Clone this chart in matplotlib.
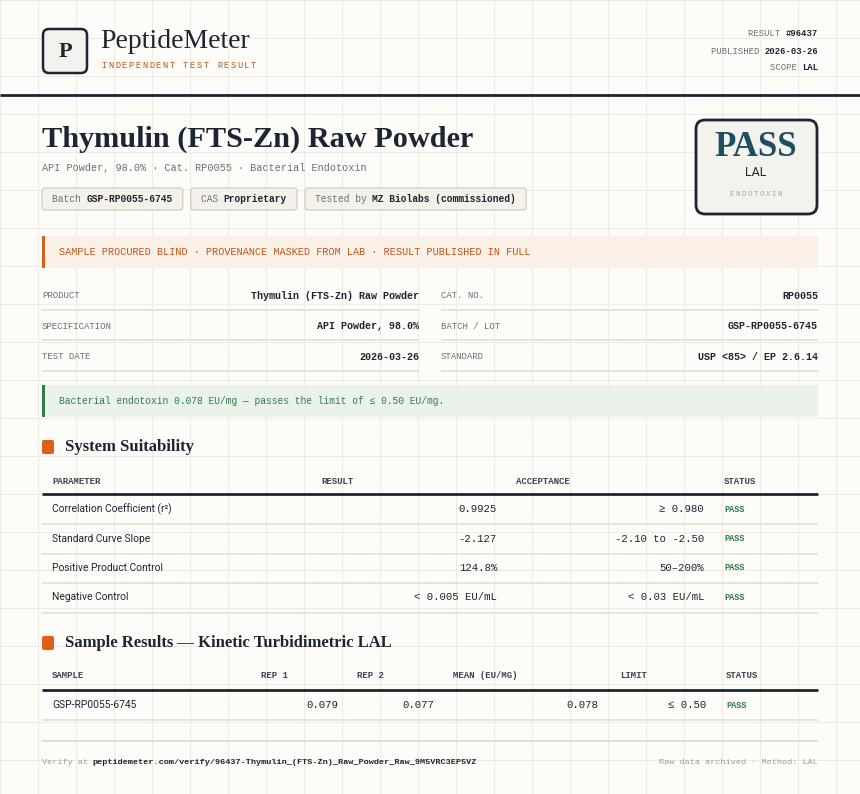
import matplotlib.pyplot as plt
from matplotlib.patches import FancyBboxPatch, Rectangle

W, H = 860, 794

# data
result_id = "#96437"
published = "2026-03-26"
scope = "LAL"
title = "Thymulin (FTS-Zn) Raw Powder"
subtitle = "API Powder, 98.0% · Cat. RP0055 · Bacterial Endotoxin"
chips = [("Batch ", "GSP-RP0055-6745"), ("CAS ", "Proprietary"),
         ("Tested by ", "MZ Biolabs (commissioned)")]
info_left = [("PRODUCT", "Thymulin (FTS-Zn) Raw Powder"),
             ("SPECIFICATION", "API Powder, 98.0%"),
             ("TEST DATE", "2026-03-26")]
info_right = [("CAT. NO.", "RP0055"), ("BATCH / LOT", "GSP-RP0055-6745"),
              ("STANDARD", "USP <85> / EP 2.6.14")]
suit_params = ["Correlation Coefficient (r²)", "Standard Curve Slope",
               "Positive Product Control", "Negative Control"]
suit_results = ["0.9925", "-2.127", "124.8%", "< 0.005 EU/mL"]
suit_accept = ["≥ 0.980", "-2.10 to -2.50", "50–200%", "< 0.03 EU/mL"]
suit_status = ["PASS", "PASS", "PASS", "PASS"]
samples = ["GSP-RP0055-6745"]
rep1 = ["0.079"]
rep2 = ["0.077"]
means = ["0.078"]
limits = ["≤ 0.50"]
sample_status = ["PASS"]

DARK = "#1c2533"
GRAY = "#6b6f76"
ORANGE = "#c2531a"
GREEN = "#2e7d4a"
TEAL = "#1d4e63"
LINE = "#e4dfd3"
SERIF = ["Liberation Serif", "DejaVu Serif"]
MONO = ["Liberation Mono", "DejaVu Sans Mono"]
SANS = ["Roboto", "DejaVu Sans"]

fig = plt.figure(figsize=(W / 100, H / 100), dpi=100)
fig.patch.set_facecolor("#fdfcf8")
ax = fig.add_axes([0, 0, 1, 1])
ax.set_xlim(0, W)
ax.set_ylim(H, 0)
ax.axis("off")

# background grid
for gx in range(0, W, 38):
    ax.axvline(gx, color="#eeebe3", lw=0.8, zorder=0)
for gy in range(0, H, 38):
    ax.axhline(gy, color="#eeebe3", lw=0.8, zorder=0)


def cw(size):
    # mono character width in px
    return 0.6 * size * 100 / 72


def txt(x, y, s, size=8, color=DARK, family=MONO, ha="left", weight="normal", **kw):
    ax.text(x, y, s, fontsize=size, color=color, family=family, ha=ha, va="center",
            weight=weight, **kw)


def spaced(x, y, s, size, step, color, ha="left"):
    if ha == "center":
        x = x - step * (len(s) - 1) / 2
    for i, ch in enumerate(s):
        txt(x + i * step, y, ch, size=size, color=color, ha="center")


def hline(y, x0=42, x1=818, color=LINE, lw=1.2):
    ax.plot([x0, x1], [y, y], color=color, lw=lw, solid_capstyle="butt")


# header
ax.add_patch(FancyBboxPatch((43, 29), 44, 44, boxstyle="round,pad=0,rounding_size=6",
                            fc="#f4f2ec", ec=DARK, lw=1.8))
txt(65, 52, "P", size=16, family=SERIF, ha="center", weight="bold")
txt(100, 42, "PeptideMeter", size=20, family=SERIF)
spaced(104, 65, "INDEPENDENT TEST RESULT", 6.2, 6.8, ORANGE)
for yy, lab, val in [(34, "RESULT ", result_id), (51, "PUBLISHED ", published), (67, "SCOPE ", scope)]:
    txt(818, yy, val, size=6.4, ha="right", weight="bold")
    txt(818 - cw(6.4) * len(val), yy, lab, size=6.4, ha="right", color=GRAY)
hline(95, 0, W, color=DARK, lw=2)

# title block
txt(42, 139, title, size=21.8, family=SERIF, weight="bold")
txt(42, 168, subtitle, size=7.3, color=GRAY)
cx = 42
for lab, val in chips:
    w = cw(6.9) * (len(lab) + len(val)) + 20
    ax.add_patch(FancyBboxPatch((cx, 188), w, 22, boxstyle="round,pad=0,rounding_size=3",
                                fc="#f3f1ea", ec="#d6d0bf", lw=1))
    txt(cx + 10, 199, lab, size=6.9, color=GRAY)
    txt(cx + 10 + cw(6.9) * len(lab), 199, val, size=6.9, weight="bold")
    cx += w + 8

ax.add_patch(FancyBboxPatch((696, 120), 121, 94, boxstyle="round,pad=0,rounding_size=9",
                            fc="#f4f2ec", ec=DARK, lw=2))
txt(756, 147, "PASS", size=25, family=SERIF, color=TEAL, ha="center", weight="bold")
txt(756, 173, "LAL", size=9, family=SANS, ha="center")
spaced(756, 195, "ENDOTOXIN", 5.5, 6.0, "#a9a9a9", ha="center")

# notice banners
ax.add_patch(Rectangle((42, 236), 776, 32, fc="#faf0e6", ec="none"))
ax.add_patch(Rectangle((42, 236), 2.5, 32, fc="#d4601f", ec="none"))
txt(59, 252, "SAMPLE PROCURED BLIND · PROVENANCE MASKED FROM LAB · RESULT PUBLISHED IN FULL",
    size=7.3, color=ORANGE)
ax.add_patch(Rectangle((42, 385), 776, 32, fc="#ebf2ea", ec="none"))
ax.add_patch(Rectangle((42, 385), 2.5, 32, fc=GREEN, ec="none"))
txt(59, 401, "Bacterial endotoxin 0.078 EU/mg — passes the limit of ≤ 0.50 EU/mg.",
    size=6.9, color=GREEN)

# info grid
for i, ((ll, lv), (rl, rv)) in enumerate(zip(info_left, info_right)):
    y = 296 + 30.3 * i
    txt(42, y, ll, size=6.5, color=GRAY)
    txt(419, y, lv, size=7.2, ha="right", weight="bold")
    txt(441, y, rl, size=6.5, color=GRAY)
    txt(818, y, rv, size=7.2, ha="right", weight="bold")
    hline(y + 14, 42, 419)
    hline(y + 14, 441, 818)

# system suitability
ax.add_patch(FancyBboxPatch((42, 440), 12, 14, boxstyle="round,pad=0,rounding_size=2",
                            fc="#df5d14", ec="none"))
txt(65, 447, "System Suitability", size=12, family=SERIF, weight="bold")
for x, s in [(52, "PARAMETER"), (321, "RESULT"), (516, "ACCEPTANCE"), (724, "STATUS")]:
    txt(x, 481, s, size=6.5, color="#3d4450", weight="bold")
hline(494, color=DARK, lw=2)
for i in range(len(suit_params)):
    y = 509 + 29.5 * i
    txt(52, y, suit_params[i], size=7.4, family=SANS)
    txt(497, y, suit_results[i], size=7.7, ha="right")
    txt(704, y, suit_accept[i], size=7.7, ha="right")
    txt(724, y, suit_status[i], size=6.2, color=GREEN, weight="bold")
    hline(y + 15)

# sample results
ax.add_patch(FancyBboxPatch((42, 636), 12, 14, boxstyle="round,pad=0,rounding_size=2",
                            fc="#df5d14", ec="none"))
txt(65, 643, "Sample Results — Kinetic Turbidimetric LAL", size=12, family=SERIF, weight="bold")
for x, s in [(52, "SAMPLE"), (261, "REP 1"), (357, "REP 2"), (453, "MEAN (EU/MG)"),
             (620, "LIMIT"), (726, "STATUS")]:
    txt(x, 676, s, size=6.5, color="#3d4450", weight="bold")
hline(690, color=DARK, lw=2)
for i in range(len(samples)):
    y = 705 + 29.5 * i
    txt(52, y, samples[i], size=7.4, family=SANS)
    txt(338, y, rep1[i], size=7.7, ha="right")
    txt(434, y, rep2[i], size=7.7, ha="right")
    txt(598, y, means[i], size=7.7, ha="right")
    txt(706, y, limits[i], size=7.7, ha="right")
    txt(726, y, sample_status[i], size=6.2, color=GREEN, weight="bold")
    hline(y + 15)

# footer
hline(741, color="#dcd6c8")
txt(42, 762, "Verify at", size=6.1, color="#9a9a9a")
txt(42 + cw(6.1) * 10, 762,
    "peptidemeter.com/verify/96437-Thymulin_(FTS-Zn)_Raw_Powder_Raw_9M5VRC3EP5VZ",
    size=6.1, weight="bold")
txt(818, 762, "Raw data archived · Method: LAL", size=6.1, color="#9a9a9a", ha="right")

fig.savefig("out.png", dpi=100, facecolor=fig.get_facecolor())
